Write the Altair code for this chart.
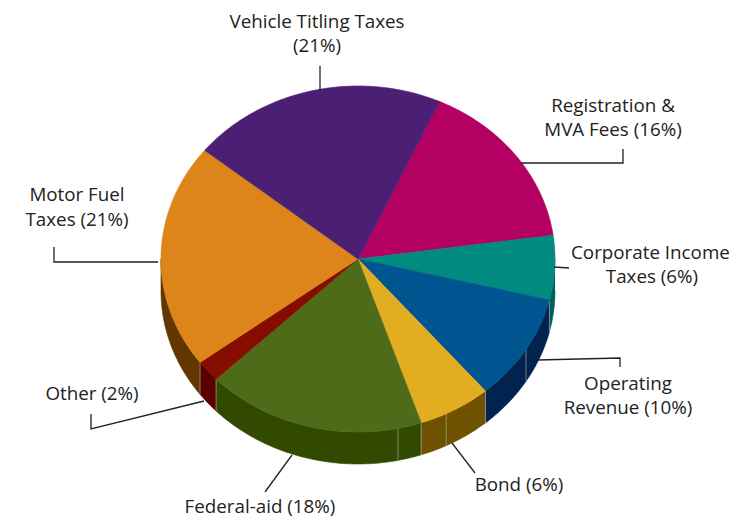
import math
import altair as alt
import pandas as pd

# ---- chart values -------------------------------------------------------
slices = ["Registration & MVA Fees", "Corporate Income Taxes", "Operating Revenue", "Bond",
          "Federal-aid", "Other", "Motor Fuel Taxes", "Vehicle Titling Taxes"]
shares = [16, 6, 10, 6, 18, 2, 21, 21]
top_colors = ["#b30062", "#008a80", "#005490", "#e2ad20", "#4e6b19", "#860c00", "#dd841a", "#4b1f73"]
wall_colors = ["#8a004b", "#005f5f", "#00234f", "#6f5200", "#324a00", "#5a0000", "#613600", "#3a1558"]
label_lines = ["Vehicle Titling Taxes", "(21%)", "Registration &", "MVA Fees (16%)",
               "Corporate Income", "Taxes (6%)", "Motor Fuel", "Taxes (21%)", "Other (2%)",
               "Operating", "Revenue (10%)", "Bond (6%)", "Federal-aid (18%)"]

# ---- layout -------------------------------------------------------------
FONT = "Open Sans"
FS = 18.8
START = 24.5          # clockwise degrees from 12 o'clock
CX, CY, RX, RY, DEPTH = 358, 259, 197, 173, 32
W, H = 722, 512
seam_angles = [121.5, 153.4, 168.3]
label_pos = [(317, 22, "center"), (317, 46, "center"), (613, 106, "center"), (613, 130, "center"),
             (571, 253, "left"), (652, 277, "center"), (77, 195, "center"), (77, 220, "center"),
             (92, 394, "center"), (628, 384, "center"), (628, 408, "center"), (519, 485, "center"),
             (260, 507, "center")]
leaders = [[(320, 66), (320, 90)],
           [(623, 149), (623, 163), (521, 163)],
           [(554, 267), (569, 268)],
           [(620, 367), (620, 358), (537, 360)],
           [(452, 443), (475, 473)],
           [(292, 455), (265, 492)],
           [(204, 401), (91, 429), (91, 414)],
           [(54, 247), (54, 262), (158, 262)]]

def ux(px):
    return (px - CX) / RX
def uy(py):
    return (CY - py) / RY
D = DEPTH / RY

# ---- geometry derived from shares ---------------------------------------
def pt(a, drop=0.0):
    r = math.radians(a)
    return math.sin(r), math.cos(r) - drop

top_rows, wall_rows = [], []
a0 = START
for name, s, tc, wc in zip(slices, shares, top_colors, wall_colors):
    a1 = a0 + s * 3.6
    n = max(4, int(s * 3.6))
    arc = [a0 + (a1 - a0) * k / n for k in range(n + 1)]
    poly = [(0.0, 0.0)] + [pt(a) for a in arc] + [(0.0, 0.0)]
    for i, (x, y) in enumerate(poly):
        top_rows.append(dict(slice=name, c=tc, i=i, x=x, y=y))
    lo, hi = max(a0, 90.0), min(a1, 270.0)
    if hi > lo:
        m = max(3, int(hi - lo))
        vis = [lo + (hi - lo) * k / m for k in range(m + 1)]
        wp = [pt(a) for a in vis] + [pt(a, D) for a in reversed(vis)]
        for i, (x, y) in enumerate(wp):
            wall_rows.append(dict(slice=name, c=wc, i=i, x=x, y=y))
    a0 = a1

boundaries = []
a = START
for s in shares:
    a += s * 3.6
    if 90 < a < 270:
        boundaries.append(a)
seam_rows = []
for j, a in enumerate(seam_angles + boundaries):
    for i, d in enumerate((0.0, D)):
        x, y = pt(a, d)
        seam_rows.append(dict(s=j, i=i, x=x, y=y))

leader_rows = []
for j, seg in enumerate(leaders):
    for i, (px, py) in enumerate(seg):
        leader_rows.append(dict(s=j, i=i, x=ux(px), y=uy(py)))

text_rows = [dict(t=t, x=ux(p[0]), y=uy(p[1]), a=p[2]) for t, p in zip(label_lines, label_pos)]

X = alt.X("x:Q", axis=None, scale=alt.Scale(domain=[ux(8), ux(8 + W)], nice=False, zero=False))
Y = alt.Y("y:Q", axis=None, scale=alt.Scale(domain=[uy(8 + H), uy(8)], nice=False, zero=False))

def poly_layer(rows):
    return alt.Chart(pd.DataFrame(rows)).mark_line(strokeWidth=0.6, interpolate="linear").encode(
        x=X, y=Y,
        fill=alt.Fill("c:N", scale=None),
        stroke=alt.Stroke("c:N", scale=None),
        detail="slice:N", order="i:Q")

walls = poly_layer(wall_rows)
tops = poly_layer(top_rows)
seams = alt.Chart(pd.DataFrame(seam_rows)).mark_line(color="#b9b9a8", strokeWidth=0.8, opacity=0.75).encode(
    x=X, y=Y, detail="s:N", order="i:Q")
lead = alt.Chart(pd.DataFrame(leader_rows)).mark_line(color="#222222", strokeWidth=1.3).encode(
    x=X, y=Y, detail="s:N", order="i:Q")

text_layers = []
df_text = pd.DataFrame(text_rows)
for al in ("center", "left"):
    text_layers.append(
        alt.Chart(df_text[df_text.a == al]).mark_text(
            font=FONT, fontSize=FS, color="#222222", align=al, baseline="middle", clip=False
        ).encode(x=X, y=Y, text="t:N"))

chart = alt.layer(walls, seams, tops, lead, *text_layers).properties(
    width=W, height=H, padding=0, autosize=alt.AutoSizeParams(type="none"),
    background="white"
).configure_view(stroke=None)

chart.save("out.html", embed_options={"renderer": "svg", "actions": False})
